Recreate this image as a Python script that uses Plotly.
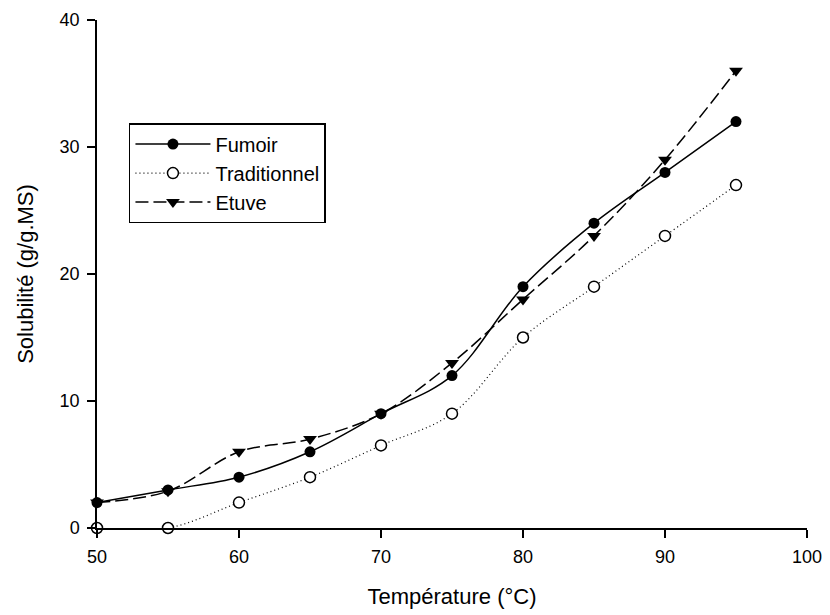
import plotly.graph_objects as go

temperature = [50, 55, 60, 65, 70, 75, 80, 85, 90, 95]
fumoir = [2, 3, 4, 6, 9, 12, 19, 24, 28, 32]
traditionnel = [0, 0, 2, 4, 6.5, 9, 15, 19, 23, 27]
etuve = [2, 2.9, 6, 7, 9, 13, 18, 23, 29, 36]

x_ticks = [50, 60, 70, 80, 90, 100]
y_ticks = [0, 10, 20, 30, 40]

FONT = "Liberation Sans, Arial, sans-serif"

fig = go.Figure()
fig.add_trace(go.Scatter(
    x=temperature, y=fumoir, name="Fumoir", mode="lines+markers",
    line=dict(color="black", width=1.5, shape="spline", smoothing=1),
    marker=dict(symbol="circle", size=11, color="black"),
    cliponaxis=False))
fig.add_trace(go.Scatter(
    x=temperature, y=traditionnel, name="Traditionnel", mode="lines+markers",
    line=dict(color="black", width=1.2, dash="1px,3px", shape="spline", smoothing=1),
    marker=dict(symbol="circle", size=11, color="white", line=dict(color="black", width=1.5)),
    cliponaxis=False))
fig.add_trace(go.Scatter(
    x=temperature, y=etuve, name="Etuve", mode="lines+markers",
    line=dict(color="black", width=1.5, dash="13px,5px", shape="spline", smoothing=1),
    marker=dict(symbol="triangle-down", size=12, color="black"),
    cliponaxis=False))

axis_common = dict(
    showgrid=False, zeroline=False, showline=True, linecolor="black", linewidth=1.5,
    ticks="outside", ticklen=8, tickwidth=1.5, tickcolor="black",
    tickfont=dict(family=FONT, size=18, color="black"),
    ticklabelstandoff=4, automargin=False,
)

fig.update_layout(
    width=830, height=615,
    margin=dict(l=97, r=23, t=20, b=87),
    plot_bgcolor="white", paper_bgcolor="white",
    xaxis=dict(range=[50, 100], tickvals=x_ticks,
               title=dict(text="Température (°C)", font=dict(family=FONT, size=22, color="black"), standoff=22),
               **axis_common),
    yaxis=dict(range=[0, 40], tickvals=y_ticks,
               title=dict(text="Solubilité (g/g.MS)", font=dict(family=FONT, size=22, color="black"), standoff=20),
               **axis_common),
    legend=dict(x=0.045, y=0.797, xanchor="left", yanchor="top",
                bordercolor="black", borderwidth=1.5, bgcolor="white",
                font=dict(family=FONT, size=20, color="black"),
                itemwidth=75, tracegroupgap=0),
    showlegend=True,
)

fig.write_html("out.html")
